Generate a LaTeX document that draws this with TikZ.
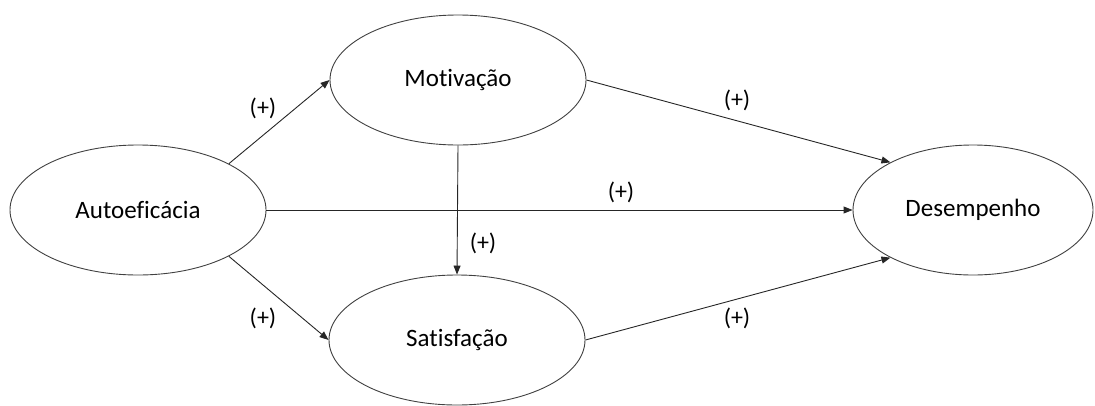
\documentclass[tikz,border=0pt]{standalone}
\usepackage{fontspec}
\setmainfont{Carlito}[Ligatures={NoCommon}]
\usetikzlibrary{shapes.geometric,arrows.meta}
\begin{document}
\begin{tikzpicture}[x=1pt,y=-1pt,
  var/.style={draw=black!75,line width=0.9pt,ellipse,inner sep=0pt,minimum width=256pt,minimum height=130pt,font=\fontsize{25}{30}\selectfont},
  path/.style={draw=black!85,line width=0.9pt,-{Triangle[length=9pt,width=7pt]}},
  sign/.style={font=\fontsize{24}{29}\selectfont,inner sep=0pt}]
\useasboundingbox (0,0) rectangle (1095,405);
\node[var] (a) at (138,210) {Autoeficácia};
\node[var] (m) at (458,80) {Motivação};
\node[var] (s) at (457,340) {Satisfação};
\node[var,minimum width=240pt] (d) at (973,210) {Desempenho};
\draw[path] (a.27) -- (m.west);
\draw[path] (a.-27) -- (s.west);
\draw[path] (a.east) -- (d.west);
\draw[path] (m.east) -- (d.150);
\draw[path] (s.east) -- (d.210);
\draw[path] (m.south) -- (s.north);
\node[sign] (l1) at (263,108) {(+)};
\node[sign] (l2) at (263,318) {(+)};
\node[sign] (l3) at (737,100) {(+)};
\node[sign] (l4) at (621,192) {(+)};
\node[sign] (l5) at (483,243) {(+)};
\node[sign] (l6) at (737,318) {(+)};
\end{tikzpicture}
\end{document}
